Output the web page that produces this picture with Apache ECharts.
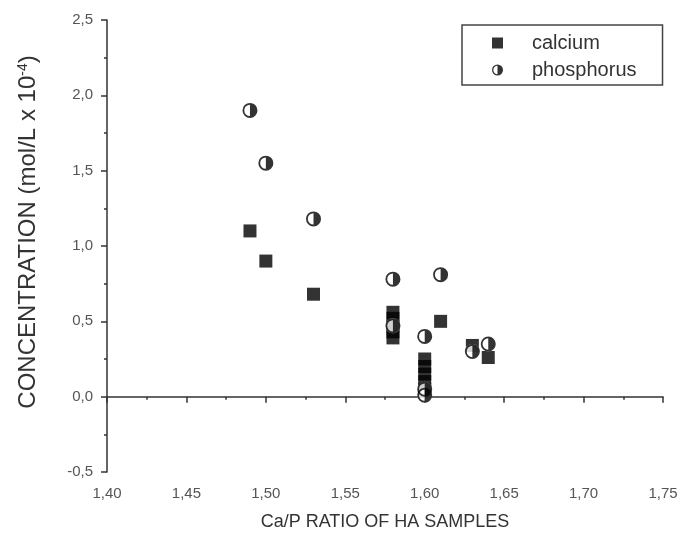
<!DOCTYPE html>
<html>
<head>
<meta charset="utf-8">
<script src="https://cdn.jsdelivr.net/npm/echarts@6/dist/echarts.min.js"></script>
<style>
  html, body { margin: 0; padding: 0; background: #fff; }
  #chart { width: 681px; height: 536px; }
</style>
</head>
<body>
<div id="chart"></div>
<script>
// calcium (squares)
const caRatio = [1.49, 1.50, 1.53, 1.58, 1.58, 1.58, 1.58, 1.58, 1.60, 1.60, 1.60, 1.60, 1.60, 1.61, 1.63, 1.64];
const caConc  = [1.10, 0.90, 0.68, 0.56, 0.52, 0.47, 0.43, 0.39, 0.25, 0.20, 0.15, 0.10, 0.05, 0.50, 0.34, 0.26];
// phosphorus (half filled circles)
const pRatio = [1.49, 1.50, 1.53, 1.58, 1.58, 1.60, 1.60, 1.60, 1.61, 1.63, 1.64];
const pConc  = [1.90, 1.55, 1.18, 0.78, 0.47, 0.40, 0.05, 0.01, 0.81, 0.30, 0.35];

const FONT = '"Liberation Sans", Arial, sans-serif';
// ring + right half disc
const HALF = 'path://M50,0 A50,50 0 1,1 50,100 A50,50 0 1,1 50,0 Z ' +
             'M50,12 A38,38 0 1,0 50,88 A38,38 0 1,0 50,12 Z ' +
             'M50,12 A38,38 0 1,1 50,88 Z';

const zip = (xs, ys) => xs.map((x, i) => [x, ys[i]]);
const comma = (v, d) => v.toFixed(d).replace('.', ',');

let chart = echarts.init(document.getElementById('chart'));

let option = {
    backgroundColor: '#fff',
    animation: false,
    grid: { left: 107, right: 18, top: 20, bottom: 64 },
    legend: {
        orient: 'vertical',
        left: 462,
        top: 25,
        padding: [8, 26, 5, 30],
        borderColor: '#444',
        borderWidth: 1.5,
        itemWidth: 11,
        itemHeight: 11,
        itemGap: 7,
        textStyle: { fontFamily: FONT, fontSize: 20, color: '#333', padding: [0, 0, 0, 24] },
        data: [
            { name: 'calcium', icon: 'rect' },
            { name: 'phosphorus', icon: HALF }
        ]
    },
    xAxis: {
        type: 'value',
        min: 1.40,
        max: 1.75,
        interval: 0.05,
        name: 'Ca/P RATIO OF HA SAMPLES',
        nameLocation: 'middle',
        nameGap: 41,
        nameTextStyle: { fontFamily: FONT, fontSize: 18, color: '#333' },
        splitLine: { show: false },
        axisLine: { lineStyle: { color: '#333', width: 1.5 } },
        axisTick: { inside: false, length: 6, lineStyle: { color: '#333', width: 1.5 } },
        minorTick: { show: true, splitNumber: 2, length: 3, lineStyle: { color: '#333', width: 1.5 } },
        axisLabel: { fontFamily: FONT, fontSize: 15, color: '#555', margin: 14, formatter: v => comma(v, 2) }
    },
    yAxis: {
        type: 'value',
        min: -0.5,
        max: 2.5,
        interval: 0.5,
        name: 'CONCENTRATION (mol/L x 10{sup|-4})',
        nameLocation: 'middle',
        nameRotate: 90,
        nameGap: 67,
        nameTextStyle: {
            fontFamily: FONT, fontSize: 24, color: '#333',
            padding: [0, 0, 0, 28],
            rich: { sup: { fontFamily: FONT, fontSize: 14, color: '#333', verticalAlign: 'top', padding: [0, 0, 10, 0] } }
        },
        splitLine: { show: false },
        axisLine: { onZero: false, lineStyle: { color: '#333', width: 1.5 } },
        axisTick: { inside: false, length: 6, lineStyle: { color: '#333', width: 1.5 } },
        minorTick: { show: true, splitNumber: 2, length: 3, lineStyle: { color: '#333', width: 1.5 } },
        axisLabel: { fontFamily: FONT, fontSize: 15, color: '#555', margin: 14, formatter: v => comma(v, 1) }
    },
    series: [
        {
            name: 'calcium',
            type: 'scatter',
            symbol: 'rect',
            symbolSize: 13,
            itemStyle: { color: '#000' },
            z: 2,
            data: zip(caRatio, caConc)
        },
        {
            // white backing for the half-filled circles
            name: 'phosphorus-back',
            type: 'scatter',
            symbol: 'circle',
            symbolSize: 15,
            itemStyle: { color: '#fff' },
            z: 3,
            silent: true,
            data: zip(pRatio, pConc)
        },
        {
            name: 'phosphorus',
            type: 'scatter',
            symbol: HALF,
            symbolSize: 15,
            itemStyle: { color: '#000' },
            z: 4,
            data: zip(pRatio, pConc)
        }
    ]
};

chart.setOption(option);
</script>
</body>
</html>
